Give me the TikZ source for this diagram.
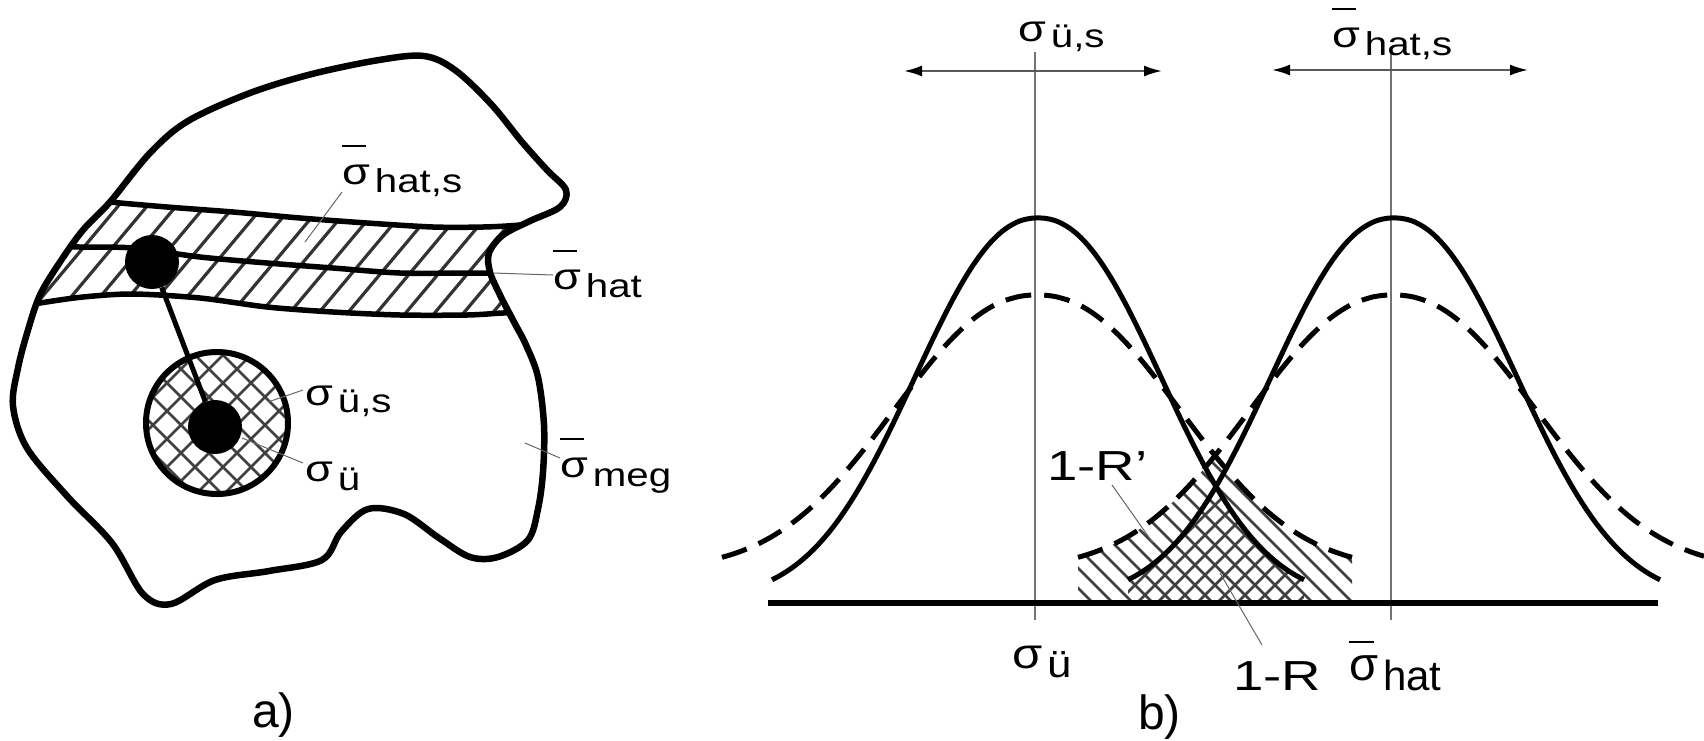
\documentclass[tikz,border=0pt]{standalone}
\usepackage{fontspec}
\setmainfont{Liberation Sans}
\usepackage{graphicx}
\usetikzlibrary{arrows.meta}

\newcommand{\sgm}{\scalebox{1.12}{σ}}
\newcommand{\Sg}[2]{\raisebox{#1}{\sgm}\hspace{0.12em}#2}
\newcommand{\BSg}[2]{\raisebox{#1}{\rlap{\rule[37pt]{0.6em}{2pt}}\sgm}\hspace{0.12em}#2}

\tikzset{
  declare function={
    sb(\d)=600-382*exp(-exp(2.2*ln(abs(\d)/163+0.0001)));
    db(\d)=570-275*exp(-exp(2.2*ln(abs(\d)/189+0.0001)));
  },
  thickln/.style={line width=6.5pt, line join=round, line cap=round},
  bandln/.style={line width=5.5pt, line join=round},
  curve/.style={line width=5pt},
  dcurve/.style={line width=5pt, dash pattern=on 26pt off 13pt},
  hatchln/.style={line width=2.6pt, black!75},
  bhatch/.style={line width=3.2pt, black!80},
  thinln/.style={line width=1.5pt, black!55},
  leader/.style={line width=1pt, black!60},
  arr/.style={line width=2pt, black!65, {Latex[length=18pt,width=11pt,black]}-{Latex[length=18pt,width=11pt,black]}},
  lab/.style={inner sep=0pt, anchor=base west, font=\fontsize{33}{36}\selectfont},
  biglab/.style={inner sep=0pt, anchor=base west, font=\fontsize{48}{52}\selectfont},
  dot/.style={circle, fill=black, inner sep=0pt, minimum size=54pt},
  ring/.style={circle, draw, line width=6pt, inner sep=0pt, minimum size=142pt},
}

\def\outline{plot[smooth cycle, tension=0.55] coordinates {
 (110,202) (150,153) (188,121) (250,93) (312,74) (379,60) (424,56) (455,70)
 (491,104) (522,142) (547,170) (566,190) (560,207) (530,221) (503,235)
 (489,253) (490,272) (500,295) (514,322) (526,345) (538,377) (544,425)
 (543,472) (538,509) (528,540) (498,557) (470,557) (439,538) (404,514)
 (368,509) (341,532) (322,560) (269,571) (215,580) (171,604) (143,594)
 (112,543) (67,496) (27,448) (13,406) (18,368) (28,330) (40,295) (60,262) (83,230)}}

\begin{document}
\begin{tikzpicture}[x=1pt,y=-1pt]
\fill[white] (0,0) rectangle (1704,740);
\useasboundingbox (0,0) rectangle (1704,740);

% ---------------- panel a ----------------
% band hatch
\begin{scope}
  \clip \outline;
  \clip plot[smooth] coordinates {(80,198) (110,202) (167,207) (233,212) (300,218) (367,223) (433,227) (483,227) (520,225) (560,220)}
     -- plot[smooth] coordinates {(540,312) (503,313) (467,315) (400,315) (333,312) (267,307) (200,298) (133,294) (83,297) (40,303) (0,310)} -- cycle;
  \foreach \i in {-110,-81,...,560} \draw[bhatch] (\i,340) -- (\i+134,180);
\end{scope}
% band lines
\begin{scope}
  \clip \outline;
  \draw[bandln] plot[smooth] coordinates {(80,198) (110,202) (167,207) (233,212) (300,218) (367,223) (433,227) (483,227) (520,225) (560,220)};
  \draw[bandln] plot[smooth] coordinates {(50,247) (80,247) (133,248) (200,257) (267,263) (333,268) (400,273) (467,273) (488,273) (520,273)};
  \draw[bandln] plot[smooth] coordinates {(0,310) (40,303) (83,297) (133,294) (200,298) (267,307) (333,312) (400,315) (467,315) (503,313) (540,312)};
\end{scope}
\draw[thickln] \outline;

% circle with cross hatch
\begin{scope}
  \clip (217,423) circle [radius=71pt];
  \foreach \i in {-44,-16,...,300} {
    \draw[hatchln] (\i,340) -- ++(170,170);
    \draw[hatchln] (\i,510) -- ++(170,-170);
  }
\end{scope}
\node[ring] (cir) at (217,423) {};
\node[dot] (bd) at (152,262) {};
\node[dot] (id) at (215,427) {};
\draw[line width=5pt] (bd) -- (id);

% labels panel a
\node[lab] (lA1) at (342,192) {\scalebox{1.22}[1]{\BSg{8pt}{hat,s}}};
\node[lab] (lA2) at (553,297) {\scalebox{1.22}[1]{\BSg{8pt}{hat}}};
\node[lab] (lA3) at (305,412) {\scalebox{1.22}[1]{\Sg{7pt}{ü,s}}};
\node[lab] (lA4) at (305,490) {\scalebox{1.22}[1]{\Sg{9pt}{ü}}};
\node[lab] (lA5) at (560,486) {\scalebox{1.22}[1]{\BSg{9pt}{meg}}};
\coordinate (pA1) at (305,242);
\coordinate (pA2) at (493,273);
\coordinate (pA3) at (268,402);
\coordinate (pA4) at (242,438);
\coordinate (pA5) at (525,443);
\draw[leader] (lA1.base west) -- (pA1);
\draw[leader] ([yshift=22pt]lA2.base west) -- (pA2);
\draw[leader] ([xshift=-2pt,yshift=22pt]lA3.base west) -- (pA3);
\draw[leader] ([xshift=-2pt,yshift=27pt]lA4.base west) -- (pA4);
\draw[leader] ([yshift=28pt]lA5.base west) -- (pA5);
\node[biglab] (la) at (252,727) {a)};

% ---------------- panel b ----------------
% 1-R' hatch (under both dashed curves)
\begin{scope}
  \clip plot[domain=1078:1352, samples=60] (\x,{db(\x-1393)}) -- (1352,603) -- (1078,603) -- cycle;
  \clip plot[domain=1078:1352, samples=60] (\x,{db(\x-1037)}) -- (1352,603) -- (1078,603) -- cycle;
  \foreach \i in {880,900,...,1380} \draw[hatchln] (\i,430) -- ++(180,180);
\end{scope}
% 1-R hatch (under both solid curves)
\begin{scope}
  \clip plot[domain=1128:1304, samples=60] (\x,{sb(\x-1038)}) -- (1304,603) -- (1128,603) -- cycle;
  \clip plot[domain=1128:1304, samples=60] (\x,{sb(\x-1394)}) -- (1304,603) -- (1128,603) -- cycle;
  \foreach \i in {990,1010,...,1320} \draw[hatchln] (\i,610) -- ++(180,-180);
\end{scope}

% vertical lines and arrows
\coordinate (v1t) at (1035,52);  \coordinate (v1b) at (1035,620);
\coordinate (v2t) at (1391,52);  \coordinate (v2b) at (1391,620);
\draw[thinln] (v1t) -- (v1b);
\draw[thinln] (v2t) -- (v2b);
\coordinate (a1l) at (904,71);   \coordinate (a1r) at (1162,71);
\coordinate (a2l) at (1272,70);  \coordinate (a2r) at (1528,70);
\draw[arr] (a1l) -- (a1r);
\draw[arr] (a2l) -- (a2r);

% curves
\draw[curve] plot[domain=772:1304, samples=120, smooth] (\x,{sb(\x-1038)});
\draw[curve] plot[domain=1128:1660, samples=120, smooth] (\x,{sb(\x-1394)});
\draw[dcurve] plot[domain=722:1352, samples=120, smooth] (\x,{db(\x-1037)});
\draw[dcurve] plot[domain=1078:1704, samples=120, smooth] (\x,{db(\x-1393)});

% baseline
\coordinate (bl) at (768,603); \coordinate (br) at (1658,603);
\draw[line width=5.5pt] (bl) -- (br);

% labels panel b
\node[lab] (lB1) at (1018,47) {\scalebox{1.22}[1]{\Sg{6pt}{ü,s}}};
\node[lab] (lB2) at (1332,55) {\scalebox{1.22}[1]{\BSg{8pt}{hat,s}}};
\node[inner sep=0pt, anchor=base west, font=\fontsize{38}{42}\selectfont] (lB3) at (1012,677) {\scalebox{1.15}[1]{\Sg{9pt}{ü}}};
\node[inner sep=0pt, anchor=base west, font=\fontsize{42}{46}\selectfont] (lB5) at (1349,690) {\scalebox{1.0}[1]{\BSg{10pt}{hat}}};
\node[inner sep=0pt, anchor=base west, font=\fontsize{42}{46}\selectfont] (lB4) at (1233,690) {\scalebox{1.3}[1]{1-R}};
\node[inner sep=0pt, anchor=base west, font=\fontsize{42}{46}\selectfont] (lB6) at (1047,480) {\scalebox{1.3}[1]{1-R’}};
\coordinate (pB4) at (1220,573);
\coordinate (pB6) at (1153,543);
\draw[leader] ([xshift=29pt,yshift=45pt]lB4.base west) -- (pB4);
\draw[leader] ([xshift=65pt,yshift=-5pt]lB6.base west) -- (pB6);
\node[biglab] (lb) at (1138,729) {b)};
\end{tikzpicture}
\end{document}
